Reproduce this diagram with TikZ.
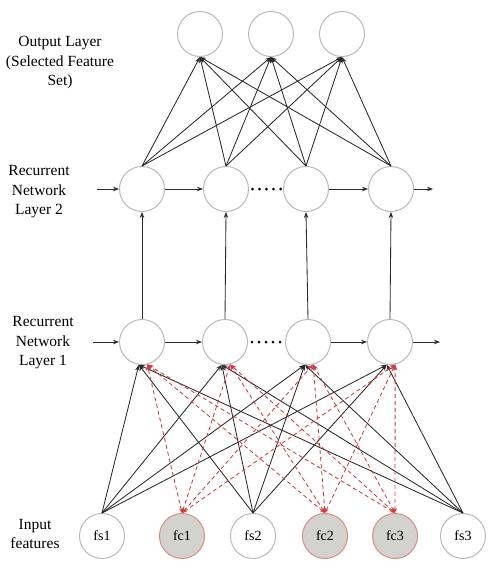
\documentclass[tikz,border=0pt]{standalone}
\usepackage{fontspec}
\setmainfont{Liberation Serif}
\usetikzlibrary{arrows.meta}
\definecolor{lnk}{HTML}{2A2A2A}
\definecolor{redl}{HTML}{D23C3C}
\definecolor{fcfill}{HTML}{D2D3CF}
\definecolor{fcedge}{HTML}{E08A80}
\tikzset{
  neuron/.style={circle,draw=black!28,line width=1pt,minimum size=45pt,inner sep=0pt,font=\fontsize{14}{16}\selectfont},
  fcneuron/.style={neuron,draw=fcedge,fill=fcfill},
  conn/.style={draw=lnk,line width=0.85pt,-{Stealth[length=6pt,width=4.5pt]}},
  rconn/.style={draw=redl,line width=0.85pt,dash pattern=on 4pt off 3pt,{Stealth[length=5pt,width=3.5pt]}-{Stealth[length=6pt,width=4.5pt]}},
  lbl/.style={align=center,font=\fontsize{15.5}{19.5}\selectfont},
  dotmark/.style={circle,fill=black,inner sep=0pt,minimum size=3pt}
}
\begin{document}
\begin{tikzpicture}[x=1pt,y=-1pt]
\useasboundingbox (0,0) rectangle (500,573);
% labels
\node[lbl] (lo) at (60,63) {Output Layer\\(Selected Feature\\Set)};
\node[lbl] (l2) at (39,192) {Recurrent\\Network\\Layer 2};
\node[lbl] (l1) at (43,343) {Recurrent\\Network\\Layer 1};
\node[lbl] (li) at (35,534) {Input\\features};
% output
\node[neuron] (o1) at (200,34) {};
\node[neuron] (o2) at (271,34) {};
\node[neuron] (o3) at (342,34) {};
% layer 2
\node[neuron] (b1) at (142,189) {};
\node[neuron] (b2) at (226,189) {};
\node[neuron] (b3) at (306,189) {};
\node[neuron] (b4) at (391,189) {};
% layer 1
\node[neuron] (a1) at (142,342) {};
\node[neuron] (a2) at (225,342) {};
\node[neuron] (a3) at (308,342) {};
\node[neuron] (a4) at (390,342) {};
% inputs
\node[neuron] (s1) at (102,536) {fs1};
\node[fcneuron] (c1) at (182,536) {fc1};
\node[neuron] (s2) at (253,536) {fs2};
\node[fcneuron] (c2) at (325,536) {fc2};
\node[fcneuron] (c3) at (395,536) {fc3};
\node[neuron] (s3) at (463,536) {fs3};
% layer 2 to output
\foreach \o in {o1,o2,o3}
  \foreach \b in {b1,b2,b3,b4}
    \draw[conn] (\b.north) -- (\o.south);
% layer 1 to layer 2
\foreach \i in {1,2,3,4}
  \draw[conn] (a\i.north) -- (b\i.south);
% recurrent arrows layer 2
\coordinate (b0) at (97,189);
\coordinate (b5) at (433,189);
\draw[conn] (b0) -- (b1.west);
\draw[conn] (b1.east) -- (b2.west);
\draw[conn] (b3.east) -- (b4.west);
\draw[conn] (b4.east) -- (b5);
\foreach \x in {252.5,259.5,266.5,273.5,280.5}
  \node[dotmark] at (\x,189) {};
% recurrent arrows layer 1
\coordinate (a0) at (93,342);
\coordinate (a5) at (440,342);
\draw[conn] (a0) -- (a1.west);
\draw[conn] (a1.east) -- (a2.west);
\draw[conn] (a3.east) -- (a4.west);
\draw[conn] (a4.east) -- (a5);
\foreach \x in {252,259,266,273,280}
  \node[dotmark] at (\x,342) {};
% input connections
\foreach \s in {s1,s2,s3}
  \foreach \a in {a1,a2,a3,a4}
    \draw[conn] (\s.north) -- (\a.-98);
\foreach \c in {c1,c2,c3}
  \foreach \a in {a1,a2,a3,a4}
    \draw[rconn] (\c.north) -- (\a.-77);
\end{tikzpicture}
\end{document}
